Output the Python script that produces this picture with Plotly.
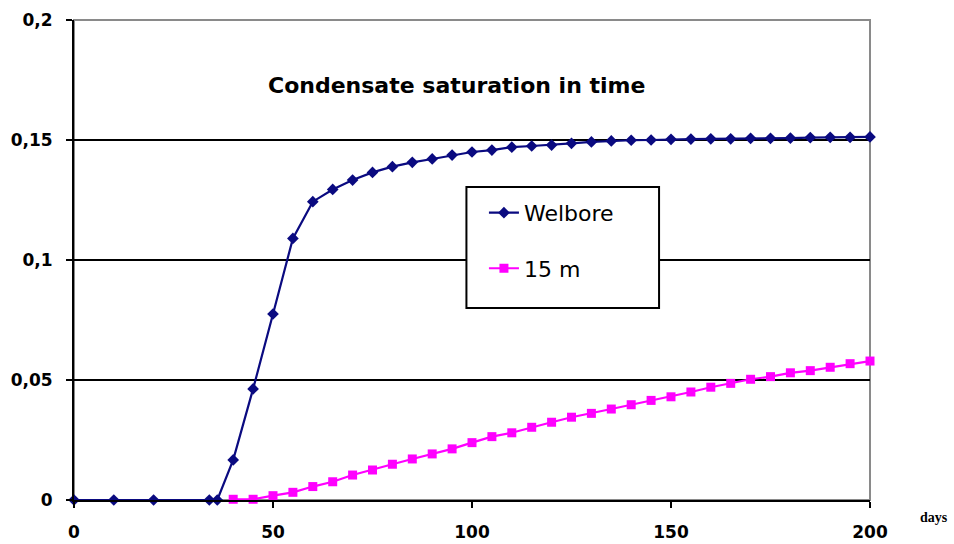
import plotly.graph_objects as go

# ---- data ----
days_welbore = [0, 10, 20, 34, 36, 40, 45, 50, 55, 60, 65, 70, 75, 80, 85, 90, 95, 100,
                105, 110, 115, 120, 125, 130, 135, 140, 145, 150, 155, 160, 165, 170,
                175, 180, 185, 190, 195, 200]
sat_welbore = [0, 0, 0, 0, 0, 0.0167, 0.0463, 0.0775, 0.109, 0.1243, 0.1294, 0.1333,
               0.1365, 0.1389, 0.1407, 0.1421, 0.1437, 0.1450, 0.1458, 0.1470, 0.1475,
               0.1479, 0.1486, 0.1492, 0.1496, 0.1499, 0.1500, 0.1503, 0.1504, 0.1505,
               0.1505, 0.1507, 0.1507, 0.1508, 0.1510, 0.1511, 0.1511, 0.1513]

days_15m = [40, 45, 50, 55, 60, 65, 70, 75, 80, 85, 90, 95, 100, 105, 110, 115, 120,
            125, 130, 135, 140, 145, 150, 155, 160, 165, 170, 175, 180, 185, 190, 195, 200]
sat_15m = [0.0003, 0.0003, 0.0018, 0.0032, 0.0056, 0.0076, 0.0104, 0.0125, 0.0149,
           0.0171, 0.0192, 0.0213, 0.0239, 0.0264, 0.0280, 0.0303, 0.0324, 0.0345,
           0.0361, 0.0379, 0.0397, 0.0415, 0.0430, 0.0450, 0.0470, 0.0486, 0.0503,
           0.0514, 0.0530, 0.0539, 0.0553, 0.0568, 0.0579]

x_ticks = [0, 50, 100, 150, 200]
x_tick_labels = ["0", "50", "100", "150", "200"]
y_ticks = [0, 0.05, 0.1, 0.15, 0.2]
y_tick_labels = ["0", "0,05", "0,1", "0,15", "0,2"]

series_names = ["Welbore", "15 m"]
title_text = "Condensate saturation in time"
x_unit = "days"

FONT = "DejaVu Sans"

fig = go.Figure()
fig.add_trace(go.Scatter(
    x=days_welbore, y=sat_welbore, name=series_names[0], mode="lines+markers",
    line=dict(color="#0a0a80", width=2.2),
    marker=dict(symbol="diamond", size=9, color="#0a0a80"),
    cliponaxis=False, legendgroup="a",
))
fig.add_trace(go.Scatter(
    x=days_15m, y=sat_15m, name=series_names[1], mode="lines+markers",
    line=dict(color="#ff00ff", width=2.2),
    marker=dict(symbol="square", size=9, color="#ff00ff"),
    cliponaxis=False, legendgroup="b",
))

fig.update_layout(
    width=954, height=544,
    margin=dict(l=74, r=84, t=20, b=44, autoexpand=False),
    paper_bgcolor="white", plot_bgcolor="white",
    showlegend=True,
    legend=dict(
        x=0.515, y=0.642, xanchor="left", yanchor="top",
        bgcolor="rgba(0,0,0,0)", borderwidth=0,
        font=dict(family=FONT, size=22, color="black"),
        tracegroupgap=24,
    ),
    shapes=[
        # outer plot frame (gray top/right)
        dict(type="rect", xref="paper", yref="paper", x0=0, x1=1, y0=0, y1=1,
             line=dict(color="#8a8a8a", width=2), fillcolor="rgba(0,0,0,0)", layer="below"),
        # legend box
        dict(type="rect", xref="paper", yref="paper", x0=0.493, x1=0.735, y0=0.400, y1=0.652,
             line=dict(color="black", width=2), fillcolor="white", layer="above"),
    ],
    annotations=[
        dict(text=title_text, xref="paper", yref="paper", x=0.48, y=0.863,
             xanchor="center", yanchor="middle", showarrow=False,
             font=dict(family=FONT, size=22, color="black", weight="bold")),
        dict(text=x_unit, xref="paper", yref="paper", x=1.08, y=-0.036,
             xanchor="center", yanchor="middle", showarrow=False,
             font=dict(family="Liberation Serif", size=14, color="black", weight="bold")),
    ],
)

fig.update_xaxes(
    range=[0, 200], tickmode="array", tickvals=x_ticks, ticktext=x_tick_labels,
    ticks="outside", ticklen=6, tickwidth=2, tickcolor="black",
    showline=True, linecolor="black", linewidth=2,
    showgrid=False, zeroline=False, automargin=False,
    tickfont=dict(family=FONT, size=17, color="black", weight="bold"),
    ticklabelstandoff=10,
)
fig.update_yaxes(
    range=[0, 0.2], tickmode="array", tickvals=y_ticks, ticktext=y_tick_labels,
    ticks="outside", ticklen=6, tickwidth=2, tickcolor="black",
    showline=True, linecolor="black", linewidth=2,
    showgrid=True, gridcolor="black", gridwidth=2, zeroline=False, automargin=False,
    tickfont=dict(family=FONT, size=17, color="black", weight="bold"),
    ticklabelstandoff=10,
)

fig.write_html(
    "out.html",
    config={"displayModeBar": False},
    post_script="document.body.style.margin='0';document.body.style.overflow='hidden';",
)
